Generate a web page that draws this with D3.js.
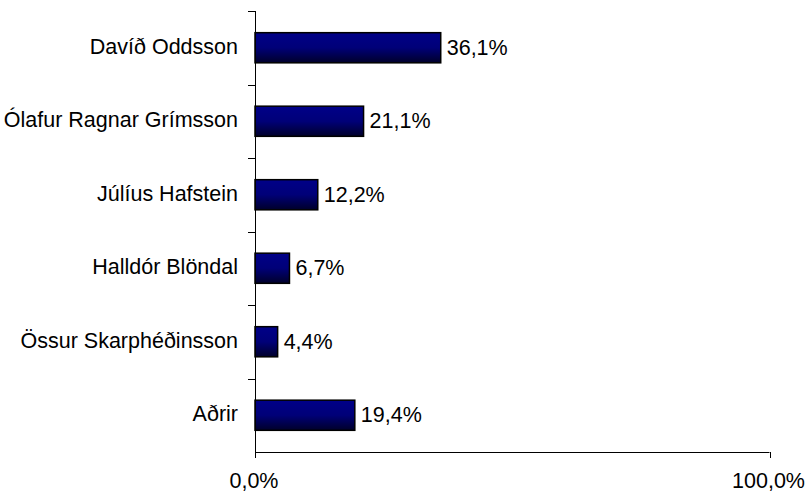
<!DOCTYPE html>
<html><head><meta charset="utf-8">
<script src="https://cdn.jsdelivr.net/npm/d3@7"></script>
<style>body{margin:0;background:#fff}svg{display:block}text{font-family:"Liberation Sans",Arial,sans-serif}</style>
</head><body>
<svg id="c" width="809" height="492"></svg>
<script>
const categories = ["Davíð Oddsson","Ólafur Ragnar Grímsson","Júlíus Hafstein","Halldór Blöndal","Össur Skarphéðinsson","Aðrir"];
const values = [36.1, 21.1, 12.2, 6.7, 4.4, 19.4];
const xTicks = [0, 100];
const fmt = v => v.toFixed(1).replace(".", ",") + "%";
const FS = "21.5px";

const svg = d3.select("#c");
const x = d3.scaleLinear().domain([0,100]).range([255,769.5]);
const y = d3.scaleBand().domain(categories).range([11,452]).paddingInner(0.59).paddingOuter(0.295);

const defs = svg.append("defs");
const g = defs.append("linearGradient").attr("id","bg").attr("x1",0).attr("y1",0).attr("x2",0).attr("y2",1);
g.append("stop").attr("offset","0%").attr("stop-color","#000088");
g.append("stop").attr("offset","50%").attr("stop-color","#000078");
g.append("stop").attr("offset","100%").attr("stop-color","#00002a");

svg.selectAll("rect.bar").data(values).enter().append("rect")
  .attr("x", x(0)).attr("y",(d,i)=>y(categories[i]))
  .attr("width", d=>x(d)-x(0)).attr("height", y.bandwidth())
  .attr("fill","url(#bg)").attr("stroke","#000").attr("stroke-width",1.5);

svg.selectAll("text.val").data(values).enter().append("text")
  .attr("x", d=>x(d)+6).attr("y",(d,i)=>y(categories[i])+y.bandwidth()/2+7)
  .attr("font-size",FS).attr("fill","#000").text(fmt);

// y axis
svg.append("line").attr("x1",255.5).attr("x2",255.5).attr("y1",11).attr("y2",452).attr("stroke","#000");
const bounds = categories.map((c,i)=>11 + i*y.step());
svg.selectAll("line.yt").data(bounds).enter().append("line")
  .attr("x1",248).attr("x2",255.5).attr("y1",d=>Math.round(d)+0.5).attr("y2",d=>Math.round(d)+0.5).attr("stroke","#000");
svg.selectAll("text.cat").data(categories).enter().append("text")
  .attr("x",238).attr("y",d=>y(d)+y.bandwidth()/2+6)
  .attr("text-anchor","end").attr("font-size",FS).text(d=>d);

// x axis
svg.append("line").attr("x1",255).attr("x2",769.5).attr("y1",452.5).attr("y2",452.5).attr("stroke","#000");
svg.selectAll("line.xt").data(xTicks).enter().append("line")
  .attr("x1",d=>Math.round(x(d))+0.5).attr("x2",d=>Math.round(x(d))+0.5).attr("y1",452).attr("y2",458).attr("stroke","#000");
svg.selectAll("text.xl").data(xTicks).enter().append("text")
  .attr("x",d=>x(d)-1).attr("y",488).attr("text-anchor","middle").attr("font-size",FS).text(fmt);
</script>
</body></html>
